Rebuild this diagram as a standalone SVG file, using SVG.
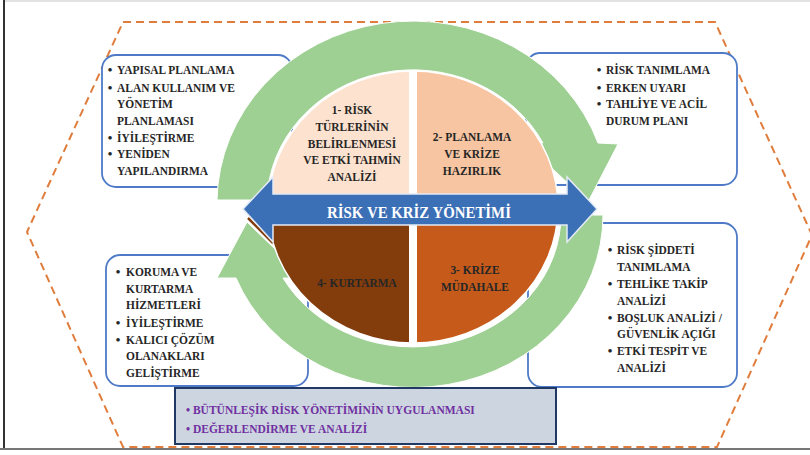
<svg xmlns="http://www.w3.org/2000/svg" width="810" height="455" viewBox="0 0 810 455">
<style>
.box{fill:#fff;stroke:#4E7AC7;stroke-width:1.8}
.t{font-family:"Liberation Serif","Times New Roman",serif;font-weight:bold;font-size:13px;fill:#262626}
.b{font-family:"Liberation Serif","Times New Roman",serif;font-weight:bold;font-size:13px;fill:#262626;text-anchor:middle}
.pu{font-family:"Liberation Serif","Times New Roman",serif;font-weight:bold;font-size:12px;fill:#7030A0}
.q{stroke:#fff;stroke-width:1.5}
</style>
<rect x="0" y="0" width="810" height="455" fill="#fff"/>
<g id="frame" fill="none">
<line x1="4" y1="1" x2="810" y2="1" stroke="#d8d8d8" stroke-width="1.5"/>
<line x1="4" y1="0" x2="4" y2="449" stroke="#333" stroke-width="2"/>
<line x1="0" y1="449" x2="810" y2="449" stroke="#777" stroke-width="2"/>
</g>
<polygon id="hexagon" points="123,22 715,22 812,235 717,447 123,447 27,232" fill="none" stroke="#E07D3C" stroke-width="2" stroke-dasharray="8,5"/>

<g id="box1"><rect class="box" x="102" y="55" width="190" height="132" rx="14"/></g>
<g id="box2"><rect class="box" x="526" y="53" width="211" height="132" rx="14"/></g>
<g id="box3"><rect class="box" x="106" y="255" width="202" height="131" rx="14"/></g>
<g id="box4"><rect class="box" x="528" y="223" width="209" height="164" rx="14"/></g>

<g id="connectors">
<path id="arc-top" d="M217,200 A196 182 0 0 1 598,143 L618,144 L588,202 L525,143 L543,143 A146 134 0 0 0 267,200 Z" fill="#9ED093" stroke="#fff" stroke-width="1"/>
<path id="arc-bottom" d="M561,215 L603,215 A190 172 0 0 1 236,278 L217,278 L247,222 L305,278 L283,278 A148 132 0 0 0 561,215 Z" fill="#9ED093" stroke="#fff" stroke-width="1"/>
</g>

<g id="pie">
<path class="q" d="M413,207 L413,71 A145 136 0 0 0 268,207 Z" fill="#FDE2CF"/>
<path class="q" d="M413,207 L558,207 A145 136 0 0 0 413,71 Z" fill="#F8C5A2"/>
<path class="q" d="M413,207 L413,343 A145 136 0 0 0 558,207 Z" fill="#C55A1A"/>
<path class="q" d="M413,207 L268,207 A145 136 0 0 0 413,343 Z" fill="#833C0C"/>
<rect x="409" y="71" width="8" height="272" fill="#fff"/>
<line x1="248" y1="218" x2="273" y2="243" stroke="#833C0C" stroke-width="2.5"/>
</g>

<g id="center-arrow">
<path d="M243,209 L273,177 L273,194 L567,194 L567,177 L597,209 L567,242 L567,225 L273,225 L273,242 Z" fill="#3B6FB6" stroke="#E3EAF5" stroke-width="1.5"/>
<text transform="translate(419,217.8) scale(0.85,1)" x="0" y="0" text-anchor="middle" font-family="Liberation Serif, Times New Roman, serif" font-weight="bold" font-size="17.5" fill="#fff">RİSK VE KRİZ YÖNETİMİ</text>
</g>

<g id="q1-label" transform="translate(352,0) scale(0.88,1)">
<text class="b" x="0" y="114.3">1- RİSK</text>
<text class="b" x="0" y="131">TÜRLERİNİN</text>
<text class="b" x="0" y="147.7">BELİRLENMESİ</text>
<text class="b" x="0" y="164.3">VE ETKİ TAHMİN</text>
<text class="b" x="0" y="181">ANALİZİ</text>
</g>
<g id="q2-label" transform="translate(472,0) scale(0.88,1)">
<text class="b" x="0" y="141.3">2- PLANLAMA</text>
<text class="b" x="0" y="158">VE KRİZE</text>
<text class="b" x="0" y="175">HAZIRLIK</text>
</g>
<g id="q3-label" transform="translate(475,0) scale(0.88,1)">
<text class="b" x="0" y="274.3">3- KRİZE</text>
<text class="b" x="0" y="291">MÜDAHALE</text>
</g>
<g id="q4-label" transform="translate(357,0) scale(0.88,1)">
<text class="b" x="0" y="287.3" fill="#2a1a0a">4- KURTARMA</text>
</g>

<g id="box1-text">
<text class="b" x="110" y="74.3">•</text><text class="b" x="110" y="91.6">•</text><text class="b" x="110" y="141.6">•</text><text class="b" x="110" y="158.3">•</text>
<g transform="translate(117,0) scale(0.88,1)">
<text class="t" x="0" y="74.3">YAPISAL PLANLAMA</text>
<text class="t" x="0" y="91.6">ALAN KULLANIM VE</text>
<text class="t" x="0" y="108.3">YÖNETİM</text>
<text class="t" x="0" y="125">PLANLAMASI</text>
<text class="t" x="0" y="141.6">İYİLEŞTİRME</text>
<text class="t" x="0" y="158.3">YENİDEN</text>
<text class="t" x="0" y="175">YAPILANDIRMA</text>
</g>
</g>

<g id="box2-text">
<text class="b" x="599" y="74.3">•</text><text class="b" x="599" y="91.6">•</text><text class="b" x="599" y="108.3">•</text>
<g transform="translate(606,0) scale(0.88,1)">
<text class="t" x="0" y="74.3">RİSK TANIMLAMA</text>
<text class="t" x="0" y="91.6">ERKEN UYARI</text>
<text class="t" x="0" y="108.3">TAHLİYE VE ACİL</text>
<text class="t" x="0" y="125">DURUM PLANI</text>
</g>
</g>

<g id="box3-text">
<text class="b" x="118" y="276">•</text><text class="b" x="118" y="327">•</text><text class="b" x="118" y="343.6">•</text>
<g transform="translate(126,0) scale(0.88,1)">
<text class="t" x="0" y="276">KORUMA VE</text>
<text class="t" x="0" y="292.6">KURTARMA</text>
<text class="t" x="0" y="309.3">HİZMETLERİ</text>
<text class="t" x="0" y="327">İYİLEŞTİRME</text>
<text class="t" x="0" y="343.6">KALICI ÇÖZÜM</text>
<text class="t" x="0" y="360.3">OLANAKLARI</text>
<text class="t" x="0" y="377">GELİŞTİRME</text>
</g>
</g>

<g id="box4-text">
<text class="b" x="610" y="254.3">•</text><text class="b" x="610" y="288.3">•</text><text class="b" x="610" y="321.6">•</text><text class="b" x="610" y="355">•</text>
<g transform="translate(617,0) scale(0.88,1)">
<text class="t" x="0" y="254.3">RİSK ŞİDDETİ</text>
<text class="t" x="0" y="271">TANIMLAMA</text>
<text class="t" x="0" y="288.3">TEHLİKE TAKİP</text>
<text class="t" x="0" y="305">ANALİZİ</text>
<text class="t" x="0" y="321.6">BOŞLUK ANALİZİ /</text>
<text class="t" x="0" y="338.3">GÜVENLİK AÇIĞI</text>
<text class="t" x="0" y="355">ETKİ TESPİT VE</text>
<text class="t" x="0" y="371.6">ANALİZİ</text>
</g>
</g>

<g id="bottom-box">
<rect x="175" y="388" width="381" height="56" fill="#CDD6E0" stroke="#203864" stroke-width="2"/>
<g transform="translate(186,0) scale(0.96,1)">
<text class="pu" x="0" y="414">• BÜTÜNLEŞİK RİSK YÖNETİMİNİN UYGULANMASI</text>
<text class="pu" x="0" y="433">• DEĞERLENDİRME VE ANALİZİ</text>
</g>
</g>
</svg>
